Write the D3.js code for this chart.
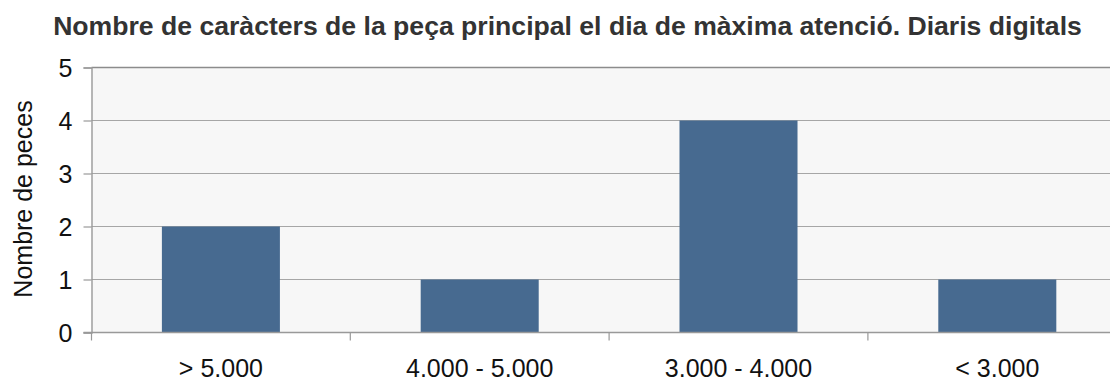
<!DOCTYPE html>
<html>
<head>
<meta charset="utf-8">
<script src="https://cdn.jsdelivr.net/npm/d3@7"></script>
<style>
  html, body { margin: 0; padding: 0; background: #ffffff; }
  svg { display: block; font-family: "Liberation Sans", Arial, sans-serif; }
</style>
</head>
<body>
<svg id="chart" width="1110" height="380"></svg>
<script>
const title = "Nombre de caràcters de la peça principal el dia de màxima atenció. Diaris digitals";
const yAxisLabel = "Nombre de peces";
const categories = ["> 5.000", "4.000 - 5.000", "3.000 - 4.000", "< 3.000"];
const values = [2, 1, 4, 1];
const yTicks = [0, 1, 2, 3, 4, 5];

const svg = d3.select("#chart");
const margin = { left: 91.5, top: 67.5, bottom: 332.5 };
const plotRight = 91.5 + 4 * 258.8; // plot area runs past the right edge of the canvas
const labelFont = 25;

const x = d3.scaleBand()
  .domain(categories)
  .range([margin.left, plotRight])
  .paddingInner(0.544)
  .paddingOuter(0.272);

const xOuter = d3.scaleBand().domain(categories).range([margin.left, plotRight]);

const y = d3.scaleLinear().domain([0, 5]).range([margin.bottom, margin.top]);

// plot background
svg.append("rect")
  .attr("x", margin.left).attr("y", margin.top)
  .attr("width", plotRight - margin.left).attr("height", margin.bottom - margin.top)
  .attr("fill", "#f7f7f7");

// horizontal gridlines
svg.append("g").selectAll("line")
  .data(yTicks.filter(d => d > 0))
  .join("line")
  .attr("x1", margin.left).attr("x2", plotRight)
  .attr("y1", d => y(d)).attr("y2", d => y(d))
  .attr("stroke", d => d === 5 ? "#8c8c8c" : "#a6a6a6")
  .attr("stroke-width", d => d === 5 ? 1.6 : 1.2);

// bars
svg.append("g").selectAll("rect")
  .data(values)
  .join("rect")
  .attr("x", (d, i) => x(categories[i]))
  .attr("width", x.bandwidth())
  .attr("y", d => y(d))
  .attr("height", d => y(0) - y(d))
  .attr("fill", "#476a90");

// y axis
const yAxis = d3.axisLeft(y).tickValues(yTicks).tickSize(8).tickPadding(11).tickFormat(d3.format("d"));
const gy = svg.append("g").attr("transform", `translate(${margin.left},0)`).call(yAxis);
gy.attr("font-size", null).attr("font-family", null);
gy.select(".domain").attr("stroke", "#999").attr("stroke-width", 1.4);
gy.selectAll(".tick line").attr("stroke", "#999").attr("stroke-width", 1.2);
gy.selectAll(".tick text")
  .attr("dy", "0.36em")
  .style("font-size", labelFont + "px").attr("fill", "#111");

// x axis (ticks at category boundaries)
const gx = svg.append("g").attr("transform", `translate(0,${margin.bottom})`);
gx.append("line")
  .attr("x1", margin.left - 8).attr("x2", plotRight)
  .attr("stroke", "#999").attr("stroke-width", 1.4);
gx.selectAll(".bound")
  .data(categories)
  .join("line")
  .attr("class", "bound")
  .attr("x1", d => xOuter(d)).attr("x2", d => xOuter(d))
  .attr("y1", 0).attr("y2", 8)
  .attr("stroke", "#999").attr("stroke-width", 1.2);
gx.selectAll("text")
  .data(categories)
  .join("text")
  .attr("x", d => xOuter(d) + xOuter.bandwidth() / 2)
  .attr("y", 44)
  .attr("text-anchor", "middle")
  .style("font-size", labelFont + "px")
  .attr("fill", "#111")
  .text(d => d);

// y axis title
svg.append("text")
  .attr("transform", `translate(31.5,199) rotate(-90)`)
  .attr("text-anchor", "middle")
  .style("font-size", labelFont + "px")
  .attr("fill", "#111")
  .text(yAxisLabel);

// chart title
svg.append("text")
  .attr("x", 567.5)
  .attr("y", 35)
  .attr("text-anchor", "middle")
  .style("font-size", "26.6px")
  .attr("font-weight", "bold")
  .attr("fill", "#333")
  .text(title);
</script>
</body>
</html>
